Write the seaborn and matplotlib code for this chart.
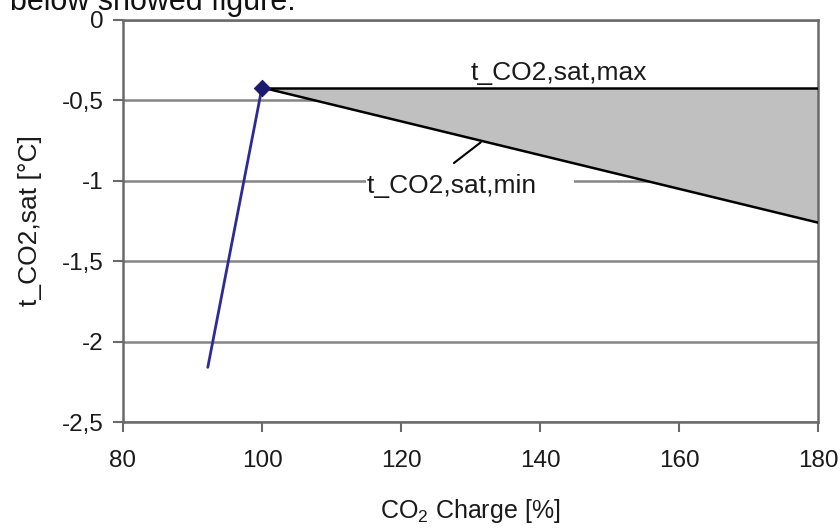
import matplotlib
matplotlib.use("Agg")
import matplotlib.pyplot as plt
import seaborn as sns
import pandas as pd
from matplotlib.ticker import FuncFormatter

# ---- data ----
charge_blue = [92.2, 100]
t_blue = [-2.16, -0.42]
diamond_charge = [100]
diamond_t = [-0.42]
charge_range = [100, 180]
t_sat_max = [-0.42, -0.42]
t_sat_min = [-0.42, -1.26]
x_ticks = [80, 100, 120, 140, 160, 180]
y_ticks = [0, -0.5, -1, -1.5, -2, -2.5]

sns.set_theme(style="white")
plt.rcParams["font.family"] = ["Liberation Sans", "DejaVu Sans"]
plt.rcParams["mathtext.fontset"] = "custom"
plt.rcParams["mathtext.rm"] = "Liberation Sans"
plt.rcParams["mathtext.it"] = "Liberation Sans:italic"
plt.rcParams["mathtext.default"] = "regular"

fig = plt.figure(figsize=(8.4, 5.29), dpi=100)
ax = fig.add_axes([123 / 840, 1 - 422 / 529, (818 - 123) / 840, (422 - 20) / 529])

df_blue = pd.DataFrame({"charge": charge_blue, "t": t_blue})
df_range = pd.DataFrame({"charge": charge_range, "tmax": t_sat_max, "tmin": t_sat_min})

ax.fill_between(df_range["charge"], df_range["tmin"], df_range["tmax"],
                color="#c0c0c0", zorder=2, linewidth=0)
sns.lineplot(data=df_range, x="charge", y="tmax", ax=ax, color="black",
             linewidth=1.8, zorder=3)
sns.lineplot(data=df_range, x="charge", y="tmin", ax=ax, color="black",
             linewidth=1.8, zorder=3)
sns.lineplot(data=df_blue, x="charge", y="t", ax=ax, color="#2e2a96",
             linewidth=2.0, zorder=4)
sns.scatterplot(x=diamond_charge, y=diamond_t, ax=ax, marker="D", s=70,
                color="#1c1a70", edgecolor="#1c1a70", zorder=5)

ax.set_xlim(80, 180)
ax.set_ylim(-2.5, 0)
ax.set_xticks(x_ticks)
ax.set_yticks(y_ticks)
ax.yaxis.set_major_formatter(FuncFormatter(lambda v, p: f"{v:g}".replace(".", ",")))
ax.grid(axis="y", color="#858585", linewidth=1.8, zorder=1)
ax.grid(axis="x", visible=False)
ax.set_axisbelow(True)
for s in ax.spines.values():
    s.set_color("#6a6a6a")
    s.set_linewidth(1.8)
ax.tick_params(axis="both", which="major", direction="out", length=7, width=1.5,
               color="#6a6a6a", labelsize=17.5, labelcolor="#1a1a1a")
ax.tick_params(axis="x", pad=13, bottom=True)
ax.tick_params(axis="y", pad=7, left=True)

ax.set_xlabel("CO$_2$ Charge [%]", fontsize=18, color="#1a1a1a", labelpad=18)
ax.set_ylabel("t_CO2,sat [°C]", fontsize=19, color="#1a1a1a", labelpad=14)

ax.text(142.7, -0.33, "t_CO2,sat,max", fontsize=19, ha="center", va="center",
        color="#1a1a1a", zorder=6)
ax.text(115.1, -1.03, "t_CO2,sat,min     ", fontsize=19, ha="left", va="center",
        color="#1a1a1a", zorder=6,
        bbox=dict(facecolor="white", edgecolor="none", pad=1))
ax.annotate("", xy=(131.8, -0.75), xytext=(127.3, -0.90),
            arrowprops=dict(arrowstyle="-", color="black", linewidth=1.5), zorder=6)

fig.text(10 / 840, 1 - 10 / 529, "below showed figure.", fontsize=22,
         ha="left", va="baseline", color="#111111")

fig.savefig("out.png", dpi=100, facecolor="white")
